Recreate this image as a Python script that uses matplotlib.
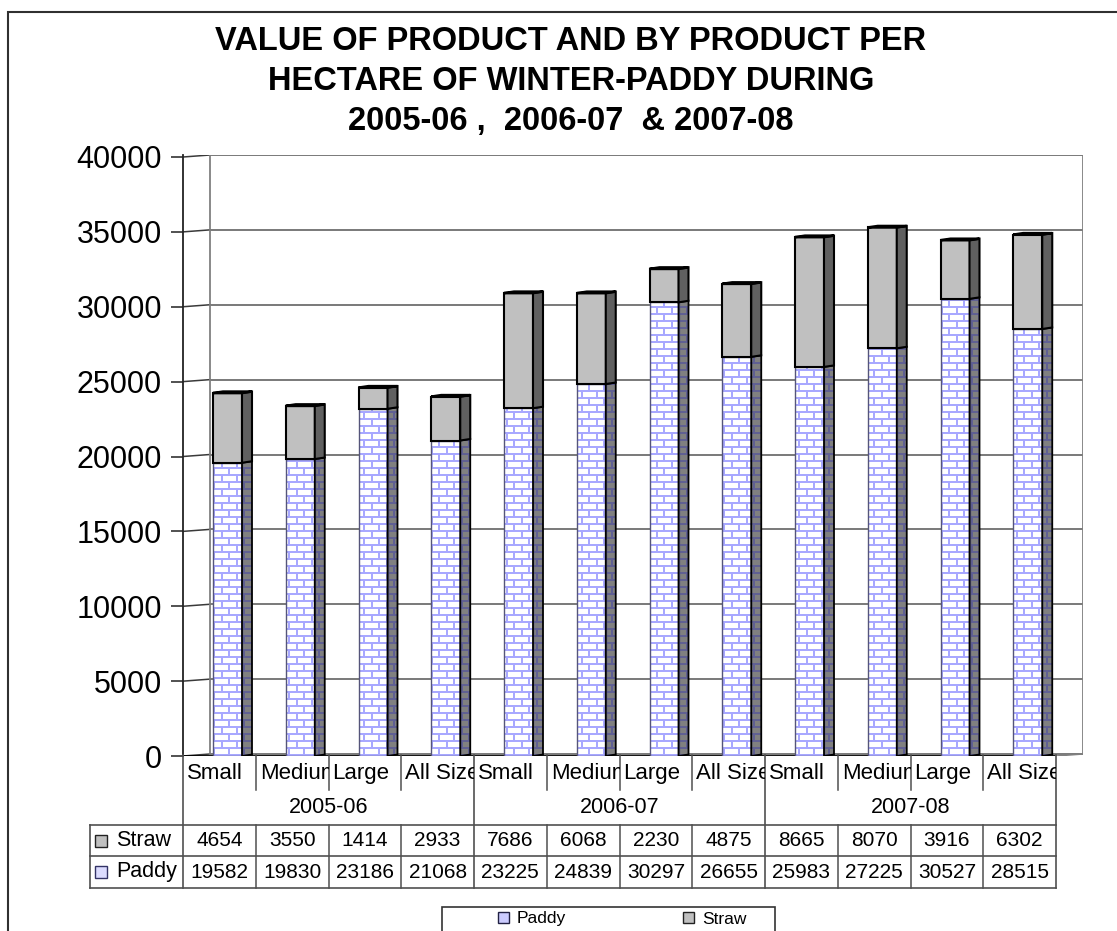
import numpy as np
import matplotlib
matplotlib.use('Agg')
from matplotlib import pyplot as plt
from matplotlib.patches import Rectangle, Polygon, Patch
from matplotlib.path import Path

plt.rcParams['font.family'] = ['Liberation Sans', 'DejaVu Sans']

# data
years = ['2005-06', '2006-07', '2007-08']
sizes = ['Small', 'Medium', 'Large', 'All Size']
paddy = [19582, 19830, 23186, 21068, 23225, 24839, 30297, 26655, 25983, 27225, 30527, 28515]
straw = [4654, 3550, 1414, 2933, 7686, 6068, 2230, 4875, 8665, 8070, 3916, 6302]
yticks = list(range(0, 40001, 5000))

W, H = 1117, 931
fig = plt.figure(figsize=(W / 100, H / 100), dpi=100)

# pixel layout
ax_l, ax_r, ax_t, ax_b = 183, 1083, 155, 756
cat_px = 72.75
ncat = len(paddy)
xmax = (ax_r - ax_l) / cat_px
ymax = 40000 * (ax_b - ax_t) / (ax_b - ax_t - 2)
dx = 27 / cat_px          # depth offset (x)
dyv = ymax - 40000        # depth offset (y)
val_px = ymax / (ax_b - ax_t)

ax = fig.add_axes([ax_l / W, 1 - ax_b / H, (ax_r - ax_l) / W, (ax_b - ax_t) / H])
ax.set_facecolor('none')

# back wall, side wall and floor
for v in yticks:
    ax.plot([dx, ncat + dx], [v + dyv, v + dyv], color='#6e6e6e', lw=1.3, zorder=1)
    ax.plot([0, dx], [v, v + dyv], color='#3a3a3a', lw=1.1, zorder=1)
ax.plot([dx, dx], [dyv, 40000 + dyv], color='#808080', lw=1.3, zorder=1)
ax.plot([ncat + dx, ncat + dx], [dyv, 40000 + dyv], color='#808080', lw=1.3, zorder=1)
ax.plot([0, ncat], [0, 0], color='black', lw=1.3, zorder=2)
ax.plot([ncat, ncat + dx], [0, dyv], color='#808080', lw=1.1, zorder=2)

# brick texture in axes pixels
th, tw = ax_b - ax_t, ax_r - ax_l
r = np.arange(th)[:, None]
c = np.arange(tw)[None, :]
k = (th - 1 - r) // 7
hline = ((th - 1 - r) % 7) < 2
vline = ((c + (k % 2) * 7) % 15) < 2
mask = hline | vline
tex_front = np.zeros((th, tw, 4))
tex_front[mask] = [0.66, 0.66, 1.0, 1.0]
tex_side = np.zeros((th, tw, 4))
tex_side[mask] = [0.38, 0.38, 0.58, 1.0]

bw = 29 / cat_px
sw = 10 / cat_px
skew = 1.5 * val_px
off = 30 / cat_px

front_paths, side_paths = [], []
for i in range(ncat):
    x0 = i + off
    p = paddy[i]
    s = straw[i]
    t = p + s
    # paddy front + side
    ax.add_patch(Rectangle((x0, 0), bw, p, facecolor='white', edgecolor='none', zorder=3))
    side_p = [(x0 + bw, 0), (x0 + bw + sw, skew), (x0 + bw + sw, p + skew), (x0 + bw, p)]
    ax.add_patch(Polygon(side_p, closed=True, facecolor='#808080', edgecolor='none', zorder=3))
    front_paths.append(Path([(x0, 0), (x0 + bw, 0), (x0 + bw, p), (x0, p), (x0, 0)], closed=True))
    side_paths.append(Path(side_p + [side_p[0]], closed=True))
    ax.add_patch(Rectangle((x0, 0), bw, p, fill=False, edgecolor='#55557a', lw=1.0, zorder=5))
    ax.add_patch(Polygon(side_p, closed=True, fill=False, edgecolor='black', lw=1.3, zorder=5))
    # straw front + side + top
    ax.add_patch(Rectangle((x0, p), bw, s, facecolor='#c0c0c0', edgecolor='black', lw=1.5, zorder=6))
    side_s = [(x0 + bw, p), (x0 + bw + sw, p + skew), (x0 + bw + sw, t + skew), (x0 + bw, t)]
    ax.add_patch(Polygon(side_s, closed=True, facecolor='#606060', edgecolor='black', lw=1.5, zorder=6))
    top = [(x0, t), (x0 + sw, t + skew), (x0 + bw + sw, t + skew), (x0 + bw, t)]
    ax.add_patch(Polygon(top, closed=True, facecolor='#c0c0c0', edgecolor='black', lw=1.8, zorder=7))

im1 = ax.imshow(tex_front, extent=(0, xmax, 0, ymax), aspect='auto', interpolation='nearest', zorder=4)
im1.set_clip_path(Path.make_compound_path(*front_paths), ax.transData)
im2 = ax.imshow(tex_side, extent=(0, xmax, 0, ymax), aspect='auto', interpolation='nearest', zorder=4)
im2.set_clip_path(Path.make_compound_path(*side_paths), ax.transData)

ax.set_xlim(0, xmax)
ax.set_ylim(0, ymax)
ax.set_xticks([])
ax.set_yticks(yticks)
ax.set_yticklabels([str(v) for v in yticks])
ax.tick_params(axis='y', length=8.6, width=1.2, labelsize=22, pad=6.5, direction='out', color='#333333')
for sp in ['top', 'right', 'bottom']:
    ax.spines[sp].set_visible(False)
ax.spines['left'].set_color('#222222')
ax.spines['left'].set_linewidth(1.3)

# data table under the plot
tb_t, tb_b = 755, 888
tax = fig.add_axes([ax_l / W, 1 - tb_b / H, (ax_r - ax_l) / W, (tb_b - tb_t) / H])
tax.set_xlim(0, xmax)
tax.set_ylim(tb_b - tb_t, 0)
tax.axis('off')

def px2x(px):
    return (px - ax_l) / cat_px

lc = '#505050'
r_cat, r_year, r_straw, r_paddy = 35, 70, 101, 133
left_x = px2x(90)

for i in range(1, ncat):
    if i % 4 != 0:
        tax.plot([i, i], [0, r_cat], color=lc, lw=1.1, clip_on=False)
        tax.plot([i, i], [r_year, r_paddy], color=lc, lw=1.1, clip_on=False)
for i in [0, 4, 8, 12]:
    tax.plot([i, i], [0, r_paddy], color=lc, lw=1.2, clip_on=False)
for yy in [r_year, r_straw, r_paddy]:
    tax.plot([left_x, ncat], [yy, yy], color=lc, lw=1.2, clip_on=False)
tax.plot([left_x, left_x], [r_year, r_paddy], color=lc, lw=1.2, clip_on=False)

for i in range(ncat):
    t = tax.text(i + 4 / cat_px, r_cat / 2 + 1, sizes[i % 4], fontsize=16, ha='left', va='center', clip_on=True)
    t.set_clip_path(Rectangle((i, 0), 1, r_cat, transform=tax.transData))
    tax.text(i + 0.5, (r_year + r_straw) / 2, str(straw[i]), fontsize=15, ha='center', va='center')
    tax.text(i + 0.5, (r_straw + r_paddy) / 2, str(paddy[i]), fontsize=15, ha='center', va='center')
for g, yr in enumerate(years):
    tax.text(g * 4 + 2, (r_cat + r_year) / 2, yr, fontsize=15.5, ha='center', va='center')

mw = 12 / cat_px
tax.add_patch(Rectangle((px2x(95), 80), mw, 12, facecolor='#c0c0c0', edgecolor='#222222', lw=1, clip_on=False))
tax.add_patch(Rectangle((px2x(95), 111), mw, 12, facecolor='#dcdcff', edgecolor='#333366', lw=1, clip_on=False))
tax.text(px2x(116), (r_year + r_straw) / 2, 'Straw', fontsize=15.5, ha='left', va='center')
tax.text(px2x(116), (r_straw + r_paddy) / 2, 'Paddy', fontsize=15.5, ha='left', va='center')

# title
title_lines = ['VALUE OF PRODUCT AND BY PRODUCT PER',
               'HECTARE OF WINTER-PADDY DURING',
               '2005-06 ,  2006-07  & 2007-08']
for j, line in enumerate(title_lines):
    fig.text(571 / W, 1 - (50 + 40 * j) / H, line, fontsize=23.5, fontweight='bold',
             ha='center', va='baseline')

# legend
handles = [Patch(facecolor='#ccccff', edgecolor='#222244', label='Paddy'),
           Patch(facecolor='#c0c0c0', edgecolor='#222222', label='Straw')]
fig.legend(handles=handles, ncol=2, loc='center left', bbox_to_anchor=(498 / W, 1 - 919 / H),
           frameon=False, fontsize=12.5, handlelength=0.65, handleheight=0.65,
           handletextpad=0.45, columnspacing=6.7, borderpad=0, borderaxespad=0)
fig.add_artist(Rectangle((442 / W, -0.05), 333 / W, 0.05 + (H - 907) / H, transform=fig.transFigure,
                         fill=False, edgecolor='#333333', lw=1.2))

# chart border
fig.add_artist(Rectangle((8 / W, -0.05), 1.1, 0.05 + 1 - 12 / H, transform=fig.transFigure,
                         fill=False, edgecolor='#303030', lw=1.5))

fig.savefig('out.png', dpi=100)
